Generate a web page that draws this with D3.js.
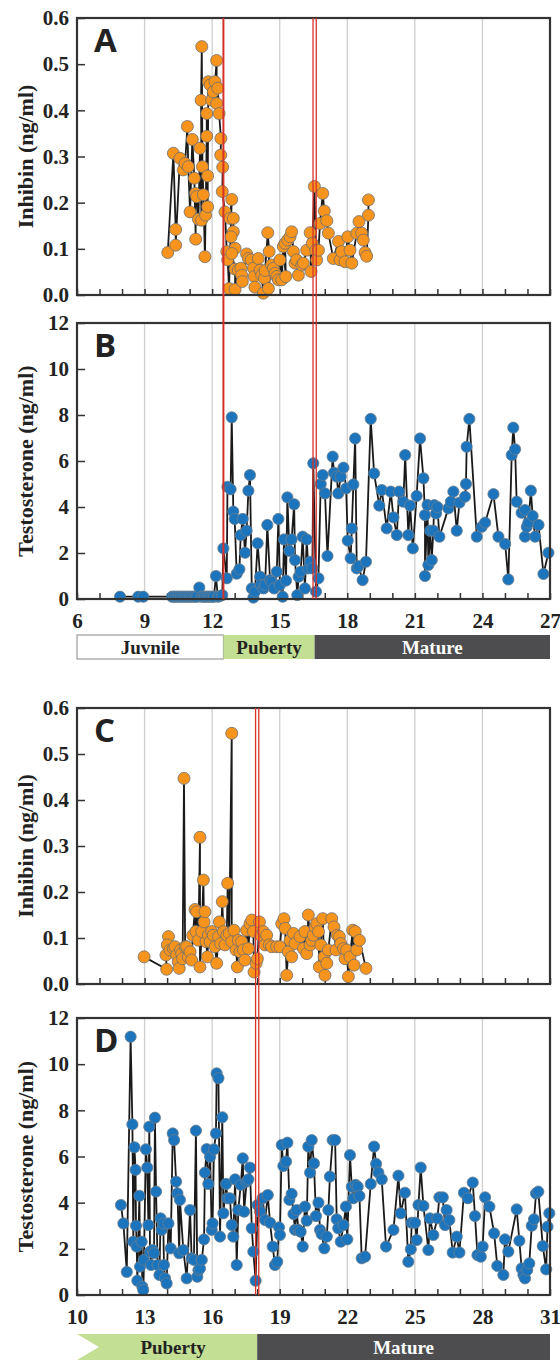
<!DOCTYPE html>
<html>
<head>
<meta charset="utf-8">
<script src="https://cdn.jsdelivr.net/npm/d3@7"></script>
<style>
body{margin:0;background:#fff;}
svg text{font-family:"Liberation Serif","Times New Roman",serif;font-weight:bold;}
</style>
</head>
<body>
<svg id="chart" width="560" height="1360"></svg>
<script>
// animal 1 : age (months) , value
const inhibinA = [[10.03,0.092],[10.28,0.307],[10.38,0.142],[10.38,0.108],[10.57,0.296],[10.72,0.271],[10.80,0.285],[10.9,0.365],[10.94,0.278],[11.02,0.18],[11.12,0.337],[11.21,0.253],[11.27,0.121],[11.26,0.22],[11.31,0.213],[11.39,0.164],[11.46,0.318],[11.53,0.162],[11.51,0.422],[11.54,0.538],[11.57,0.278],[11.61,0.217],[11.68,0.083],[11.71,0.173],[11.76,0.344],[11.76,0.393],[11.8,0.258],[11.8,0.191],[11.83,0.462],[11.91,0.455],[11.98,0.422],[12.05,0.44],[12.13,0.462],[12.2,0.508],[12.2,0.415],[12.25,0.448],[12.31,0.393],[12.39,0.339],[12.38,0.303],[12.47,0.277],[12.45,0.224],[12.57,0.18],[12.65,0.094],[12.69,0.076],[12.75,0.014],[12.87,0.207],[12.79,0.166],[12.94,0.166],[12.94,0.137],[12.84,0.126],[13.02,0.101],[12.87,0.09],[13.02,0.056],[13.02,0.012],[13.16,0.054],[13.28,0.058],[13.31,0.043],[13.34,0.029],[13.53,0.089],[13.61,0.079],[13.73,0.076],[13.83,0.058],[13.87,0.04],[13.9,0.017],[14.05,0.079],[14.13,0.054],[14.2,0.043],[14.27,0.004],[14.32,0.036],[14.35,0.053],[14.47,0.135],[14.53,0.094],[14.5,0.014],[14.64,0.065],[14.72,0.058],[14.79,0.047],[14.87,0.04],[14.94,0.033],[15.01,0.076],[15.09,0.033],[15.16,0.105],[15.27,0.04],[15.24,0.112],[15.35,0.119],[15.46,0.126],[15.53,0.137],[15.61,0.094],[15.68,0.069],[15.75,0.076],[15.83,0.043],[15.98,0.065],[16.05,0.069],[16.2,0.097],[16.35,0.135],[16.39,0.051],[16.45,0.112],[16.54,0.235],[16.6,0.097],[16.64,0.076],[16.72,0.097],[16.79,0.155],[16.91,0.22],[16.98,0.182],[17.09,0.161],[17.16,0.134],[17.38,0.079],[17.61,0.116],[17.68,0.076],[17.75,0.094],[17.9,0.072],[18.02,0.126],[18.12,0.097],[18.2,0.069],[18.42,0.134],[18.52,0.159],[18.64,0.134],[18.71,0.119],[18.79,0.092],[18.86,0.084],[18.94,0.173],[18.94,0.206]];

const testoB = [[7.91,0.1],[8.72,0.1],[8.94,0.1],[10.22,0.1],[10.3,0.1],[10.38,0.1],[10.46,0.1],[10.54,0.1],[10.62,0.1],[10.7,0.1],[10.78,0.1],[10.86,0.1],[10.94,0.1],[11.02,0.1],[11.1,0.1],[11.18,0.1],[11.26,0.1],[11.34,0.1],[11.43,0.5],[11.52,0.1],[11.6,0.1],[11.68,0.1],[11.76,0.1],[11.84,0.1],[11.92,0.1],[12.0,0.1],[12.08,0.1],[12.17,1.0],[12.25,0.1],[12.33,0.12],[12.45,0.17],[12.5,2.2],[12.65,0.9],[12.68,4.88],[12.82,4.77],[12.87,7.9],[12.94,3.8],[13.0,3.48],[13.09,1.1],[13.21,1.29],[13.27,2.78],[13.36,3.48],[13.46,2.01],[13.53,2.97],[13.61,4.71],[13.68,5.39],[13.76,0.46],[13.83,0.06],[13.9,0.32],[14.02,2.42],[14.13,0.97],[14.16,0.61],[14.28,0.46],[14.35,0.61],[14.45,3.22],[14.57,0.82],[14.64,0.75],[14.75,0.46],[14.87,1.19],[14.94,3.48],[15.01,0.61],[15.13,0.1],[15.19,2.59],[15.28,0.8],[15.34,4.42],[15.43,2.09],[15.53,2.59],[15.64,4.12],[15.68,1.69],[15.78,0.17],[15.84,0.97],[15.93,1.19],[16.02,2.71],[16.12,0.46],[16.2,2.59],[16.27,1.33],[16.35,1.62],[16.45,1.33],[16.49,5.9],[16.61,0.32],[16.72,0.9],[16.82,5.0],[16.91,5.39],[17.01,4.59],[17.12,1.87],[17.35,6.19],[17.41,5.49],[17.53,5.32],[17.6,4.59],[17.71,5.32],[17.83,5.71],[17.95,4.81],[18.02,2.54],[18.15,1.77],[18.2,3.07],[18.27,4.98],[18.35,6.98],[18.42,1.33],[18.5,1.43],[18.68,0.82],[18.83,1.62],[19.04,7.83],[19.19,5.46],[19.42,4.06],[19.53,4.74],[19.75,3.07],[19.93,4.67],[20.05,3.55],[20.2,2.78],[20.3,4.67],[20.49,4.23],[20.57,6.26],[20.71,2.78],[20.79,4.06],[20.91,2.2],[21.08,4.48],[21.23,6.98],[21.38,5.25],[21.45,3.65],[21.45,1.0],[21.56,4.09],[21.6,1.48],[21.68,2.97],[21.75,1.69],[21.82,2.97],[21.86,4.08],[21.94,3.72],[22.0,4.0],[22.09,2.71],[22.49,3.94],[22.6,4.23],[22.71,4.67],[22.86,2.97],[22.98,4.19],[23.23,4.45],[23.27,5.0],[23.3,6.62],[23.42,7.83],[23.75,2.71],[23.97,3.14],[24.12,3.32],[24.49,4.56],[24.71,2.71],[25.01,2.39],[25.15,0.85],[25.3,6.26],[25.37,7.45],[25.45,6.51],[25.52,4.23],[25.74,3.75],[25.89,3.87],[25.89,2.71],[25.97,3.14],[26.04,3.32],[26.15,4.71],[26.23,3.61],[26.34,2.71],[26.49,3.22],[26.71,1.09],[26.93,2.01]];

// animal 2
const inhibinC = [[12.98,0.059],[13.98,0.032],[13.95,0.063],[14.06,0.103],[14.01,0.085],[14.13,0.074],[14.28,0.077],[14.35,0.081],[14.43,0.063],[14.5,0.048],[14.54,0.034],[14.6,0.074],[14.65,0.066],[14.69,0.055],[14.75,0.447],[14.8,0.081],[14.87,0.081],[14.94,0.059],[15.02,0.07],[15.09,0.052],[15.14,0.106],[15.24,0.162],[15.28,0.114],[15.31,0.157],[15.39,0.095],[15.46,0.319],[15.46,0.037],[15.54,0.114],[15.61,0.226],[15.64,0.135],[15.68,0.157],[15.73,0.092],[15.79,0.059],[15.83,0.106],[15.91,0.092],[15.98,0.114],[16.05,0.106],[16.13,0.081],[16.2,0.045],[16.28,0.103],[16.32,0.135],[16.38,0.088],[16.45,0.179],[16.5,0.114],[16.57,0.085],[16.65,0.106],[16.69,0.219],[16.76,0.11],[16.87,0.545],[16.87,0.092],[16.97,0.117],[17.06,0.074],[17.12,0.037],[17.16,0.095],[17.24,0.07],[17.31,0.092],[17.39,0.074],[17.46,0.052],[17.53,0.117],[17.61,0.077],[17.68,0.131],[17.76,0.139],[17.83,0.114],[17.86,0.026],[17.95,0.045],[18.01,0.055],[18.1,0.135],[18.16,0.106],[18.27,0.114],[18.35,0.085],[18.42,0.106],[18.54,0.085],[18.64,0.081],[18.86,0.081],[19.01,0.081],[19.09,0.131],[19.19,0.142],[19.24,0.121],[19.31,0.019],[19.38,0.07],[19.46,0.095],[19.53,0.059],[19.61,0.11],[19.68,0.088],[19.9,0.103],[20.05,0.077],[20.12,0.114],[20.2,0.066],[20.27,0.15],[20.35,0.085],[20.42,0.095],[20.49,0.106],[20.57,0.124],[20.64,0.131],[20.72,0.114],[20.76,0.037],[20.82,0.085],[20.91,0.142],[20.97,0.059],[21.01,0.019],[21.09,0.045],[21.16,0.074],[21.31,0.142],[21.41,0.124],[21.5,0.074],[21.56,0.106],[21.65,0.103],[21.71,0.088],[21.83,0.077],[21.9,0.055],[21.97,0.074],[22.05,0.016],[22.12,0.059],[22.24,0.117],[22.3,0.041],[22.35,0.114],[22.42,0.074],[22.54,0.095],[22.83,0.034]];

const testoD = [[11.95,3.9],[12.06,3.1],[12.21,1.0],[12.38,11.19],[12.46,7.39],[12.5,2.31],[12.55,6.4],[12.6,5.42],[12.62,3.0],[12.65,2.1],[12.68,0.62],[12.77,4.3],[12.8,1.23],[12.87,2.31],[12.9,0.36],[12.94,0.22],[12.97,1.52],[13.06,6.31],[13.12,5.52],[13.17,3.03],[13.21,7.29],[13.24,1.88],[13.29,1.3],[13.36,1.95],[13.42,1.81],[13.46,7.68],[13.51,4.48],[13.58,1.3],[13.66,0.87],[13.71,3.32],[13.76,2.82],[13.83,3.1],[13.86,1.3],[13.91,0.72],[13.98,0.5],[14.06,3.1],[14.16,2.02],[14.25,7.0],[14.31,6.71],[14.4,4.91],[14.46,4.4],[14.54,1.81],[14.57,4.12],[14.72,1.95],[14.87,0.72],[15.02,3.68],[15.09,1.59],[15.19,1.52],[15.28,7.12],[15.34,0.79],[15.39,1.08],[15.46,1.15],[15.54,1.52],[15.64,2.41],[15.68,5.3],[15.76,6.32],[15.83,4.81],[15.91,5.99],[15.98,2.82],[16.02,3.1],[16.08,6.31],[16.17,7.0],[16.2,9.6],[16.28,9.39],[16.35,2.53],[16.45,7.7],[16.5,3.54],[16.62,4.81],[16.68,4.19],[16.79,4.19],[16.87,3.03],[16.94,2.53],[17.02,5.01],[17.09,1.3],[17.16,3.68],[17.27,4.77],[17.36,5.92],[17.42,3.61],[17.53,4.91],[17.61,5.01],[17.68,5.52],[17.76,2.89],[17.83,1.88],[17.93,0.62],[18.02,3.9],[18.13,3.61],[18.24,4.19],[18.35,3.25],[18.47,4.33],[18.57,3.13],[18.69,2.1],[18.79,1.3],[18.89,1.44],[18.97,2.93],[19.01,2.6],[19.09,6.5],[19.16,5.59],[19.28,5.78],[19.34,6.6],[19.43,4.12],[19.53,4.38],[19.61,3.51],[19.68,2.82],[19.75,3.68],[19.83,2.82],[19.93,2.74],[20.02,2.1],[20.12,3.83],[20.2,3.22],[20.27,6.43],[20.35,5.3],[20.42,6.71],[20.52,5.7],[20.61,3.42],[20.72,4.0],[20.79,2.82],[20.86,2.64],[20.98,2.02],[21.09,2.53],[21.16,3.68],[21.23,5.13],[21.35,6.71],[21.46,6.71],[21.53,3.28],[21.6,2.89],[21.71,2.31],[21.83,3.03],[21.94,3.83],[22.0,2.41],[22.12,6.06],[22.2,4.69],[22.27,4.19],[22.37,4.77],[22.46,4.69],[22.54,4.29],[22.64,1.59],[22.79,1.66],[23.04,4.81],[23.19,6.43],[23.28,5.68],[23.38,5.3],[23.53,5.01],[23.72,2.1],[24.05,2.82],[24.27,5.17],[24.37,3.54],[24.56,4.43],[24.71,1.44],[24.82,1.98],[24.86,3.13],[25.01,3.13],[25.08,2.38],[25.16,3.9],[25.26,5.52],[25.38,3.86],[25.6,1.95],[25.67,3.32],[25.82,2.6],[26.0,3.32],[26.09,4.23],[26.24,4.23],[26.34,3.03],[26.41,3.68],[26.53,3.25],[26.68,1.84],[26.86,2.53],[26.98,1.84],[27.18,4.43],[27.35,4.19],[27.57,4.87],[27.67,3.42],[27.78,1.73],[27.93,1.66],[28.01,2.1],[28.12,4.23],[28.31,3.83],[28.52,2.67],[28.66,1.26],[28.93,0.87],[29.0,2.41],[29.15,1.88],[29.52,3.71],[29.64,2.35],[29.74,1.15],[29.82,0.87],[29.89,0.72],[29.99,1.08],[30.08,1.37],[30.19,3.0],[30.29,3.28],[30.38,4.4],[30.48,4.48],[30.68,2.12],[30.83,1.11],[30.89,2.96],[30.97,3.54]];

const inhibinTicks = [0, 0.1, 0.2, 0.3, 0.4, 0.5, 0.6];
const testoTicks = [0, 2, 4, 6, 8, 10, 12];
const ageLabels1 = [6, 9, 12, 15, 18, 21, 24, 27];
const ageLabels2 = [10, 13, 16, 19, 22, 25, 28, 31];

// stage boundaries (age)
const singleMarks1 = [12.5];
const doubleMarks1 = [16.55];
const doubleMarks2 = [18.0];
const stages1 = [{name: "Juvnile", from: 6, to: 12.5}, {name: "Puberty", from: 12.5, to: 16.55}, {name: "Mature", from: 16.55, to: 27}];
const stages2 = [{name: "Puberty", from: 10, to: 18}, {name: "Mature", from: 18, to: 31}];

const svg = d3.select("#chart");
const left = 77, right = 550;
const stageFill = {Juvnile: "#ffffff", Puberty: "#c3df94", Mature: "#4d4d4f"};
const stageText = {Juvnile: "#222", Puberty: "#222", Mature: "#fff"};

function drawPanel(p) {
	const x = d3.scaleLinear().domain(p.xDomain).range([left, right]);
	const y = d3.scaleLinear().domain(p.yDomain).range([p.bottom, p.top]);
	const g = svg.append("g");

	// grid
	g.selectAll(".grid").data(p.labels.slice(1, -1)).join("line")
		.attr("x1", d => x(d)).attr("x2", d => x(d))
		.attr("y1", p.top).attr("y2", p.bottom)
		.attr("stroke", "#cfcfcf").attr("stroke-width", 1.3);

	const xAxis = d3.axisBottom(x)
		.tickValues(d3.range(p.xDomain[0], p.xDomain[1] + 1))
		.tickSize(-6).tickPadding(14)
		.tickFormat(d => (p.showX && p.labels.includes(d)) ? d : "");
	g.append("g").attr("transform", `translate(0,${p.bottom})`).call(xAxis)
		.call(a => a.select(".domain").remove())
		.call(a => a.selectAll("line").attr("stroke", "#333").attr("stroke-width", 1.5))
		.call(a => a.selectAll("text").attr("font-size", 21).attr("fill", "#222"));

	const yAxis = d3.axisLeft(y).tickValues(p.yTicks).tickSize(-8).tickPadding(8).tickFormat(p.fmt);
	g.append("g").attr("transform", `translate(${left},0)`).call(yAxis)
		.call(a => a.select(".domain").remove())
		.call(a => a.selectAll("line").attr("stroke", "#333").attr("stroke-width", 1.5))
		.call(a => a.selectAll("text").attr("font-size", 21).attr("fill", "#222"));

	const line = d3.line().x(d => x(d[0])).y(d => y(d[1]));
	g.append("path").datum(p.data).attr("d", line)
		.attr("fill", "none").attr("stroke", "#1a1a1a").attr("stroke-width", 1.8);

	g.selectAll(".pt").data(p.data).join("circle")
		.attr("cx", d => x(d[0])).attr("cy", d => y(d[1])).attr("r", p.r)
		.attr("fill", p.color).attr("stroke", p.edge).attr("stroke-width", 0.8);

	g.append("rect").attr("x", left).attr("y", p.top)
		.attr("width", right - left).attr("height", p.bottom - p.top)
		.attr("fill", "none").attr("stroke", "#333").attr("stroke-width", 2.2);

	g.append("text").attr("x", 94).attr("y", p.top + 34).text(p.letter)
		.style("font-family", "'Open Sans', 'Liberation Sans', sans-serif")
		.attr("font-size", 33).attr("fill", "#222");

	g.append("text")
		.attr("transform", `translate(33,${(p.top + p.bottom) / 2}) rotate(-90)`)
		.attr("text-anchor", "middle").attr("font-size", 22).attr("fill", "#222")
		.text(p.title);
	return x;
}

function drawMarks(x, single, dbl, y1, y2) {
	svg.selectAll(null).data(single).join("line")
		.attr("x1", d => x(d)).attr("x2", d => x(d)).attr("y1", y1).attr("y2", y2)
		.attr("stroke", "#d6322c").attr("stroke-width", 2);
	dbl.forEach(d => {
		[-1.6, 1.6].forEach(off => {
			svg.append("line")
				.attr("x1", x(d) + off).attr("x2", x(d) + off).attr("y1", y1).attr("y2", y2)
				.attr("stroke", "#d6322c").attr("stroke-width", 1.3);
		});
	});
}

function drawStages(x, stages, top, h, notch) {
	const g = svg.append("g");
	stages.forEach((s, i) => {
		const x0 = x(s.from), x1 = x(s.to);
		if (i == 0 && notch) {
			g.append("path")
				.attr("d", `M${x0},${top}H${x1}V${top + h}H${x0}L${x0 + 22},${top + h / 2}Z`)
				.attr("fill", stageFill[s.name]);
		} else {
			g.append("rect").attr("x", x0).attr("y", top).attr("width", x1 - x0).attr("height", h)
				.attr("fill", stageFill[s.name])
				.attr("stroke", s.name == "Juvnile" ? "#888" : "none").attr("stroke-width", 1);
		}
		g.append("text").attr("x", (x0 + x1) / 2 + (i == 0 && notch ? 6 : 0)).attr("y", top + h / 2 + 6.5)
			.attr("text-anchor", "middle").attr("font-size", 19)
			.attr("fill", stageText[s.name]).text(s.name);
	});
}

const xA = drawPanel({top: 18, bottom: 295, xDomain: [6, 27], yDomain: [0, 0.6], yTicks: inhibinTicks,
	fmt: d3.format(".1f"), labels: ageLabels1, showX: false, data: inhibinA, color: "#f7941d",
	edge: "#6e6e6e", r: 6, letter: "A", title: "Inhibin (ng/ml)"});
const xB = drawPanel({top: 323, bottom: 599, xDomain: [6, 27], yDomain: [0, 12], yTicks: testoTicks,
	fmt: d3.format("d"), labels: ageLabels1, showX: true, data: testoB, color: "#1c75bc",
	edge: "#6b7c8c", r: 5.6, letter: "B", title: "Testosterone (ng/ml)"});
const xC = drawPanel({top: 708, bottom: 984, xDomain: [10, 31], yDomain: [0, 0.6], yTicks: inhibinTicks,
	fmt: d3.format(".1f"), labels: ageLabels2, showX: false, data: inhibinC, color: "#f7941d",
	edge: "#6e6e6e", r: 6, letter: "C", title: "Inhibin (ng/ml)"});
const xD = drawPanel({top: 1018, bottom: 1295, xDomain: [10, 31], yDomain: [0, 12], yTicks: testoTicks,
	fmt: d3.format("d"), labels: ageLabels2, showX: true, data: testoD, color: "#1c75bc",
	edge: "#6b7c8c", r: 5.6, letter: "D", title: "Testosterone (ng/ml)"});

drawMarks(xA, singleMarks1, doubleMarks1, 18, 599);
drawMarks(xC, [], doubleMarks2, 708, 1295);

drawStages(xB, stages1, 635, 24, false);
drawStages(xD, stages2, 1334, 26, true);
</script>
</body>
</html>
